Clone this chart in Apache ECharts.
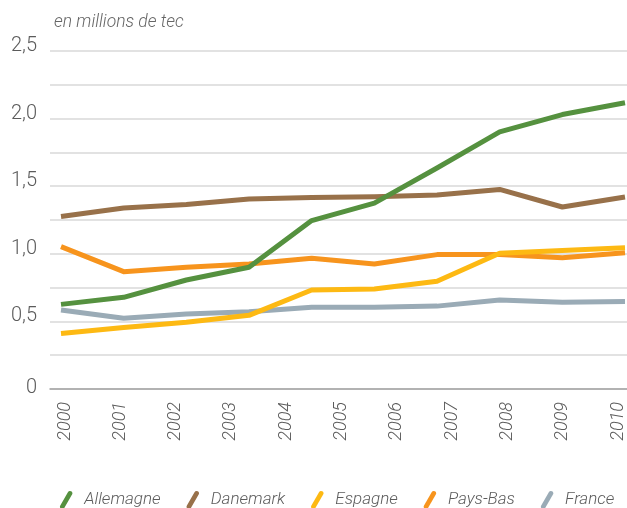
<!DOCTYPE html>
<html><head><meta charset="utf-8">
<script src="https://cdn.jsdelivr.net/npm/echarts@6/dist/echarts.min.js"></script>
<style>html,body{margin:0;padding:0;background:#fff}#c{width:627px;height:508px}</style>
</head><body><div id="c"></div>
<script>
// Year tick labels shown on the axis
const yearLabels = ['2000','2001','2002','2003','2004','2005','2006','2007','2008','2009','2010'];
// The source plots 10 observations spread over the labelled span
const pointSlots = ['1','2','3','4','5','6','7','8','9','10'];
const allemagne = [0.626, 0.678, 0.806, 0.90, 1.246, 1.375, 1.635, 1.902, 2.03, 2.117];
const danemark  = [1.276, 1.338, 1.365, 1.405, 1.417, 1.422, 1.435, 1.476, 1.346, 1.42];
const espagne   = [0.411, 0.455, 0.493, 0.545, 0.732, 0.74, 0.797, 1.004, 1.024, 1.044];
const paysBas   = [1.053, 0.868, 0.90, 0.925, 0.967, 0.925, 0.994, 0.994, 0.97, 1.007];
const france    = [0.584, 0.524, 0.554, 0.571, 0.604, 0.604, 0.613, 0.658, 0.641, 0.648];
const seriesNames = ['Allemagne','Danemark','Espagne','Pays-Bas','France'];
const unitLabel = 'en millions de tec';

const FONT = 'Roboto';
const TXT = '#5b5b5b';
const colors = {Allemagne:'#55913f', Danemark:'#98714a', Espagne:'#fdb913', 'Pays-Bas':'#f7941d', France:'#9aabb6'};
const values = {Allemagne:allemagne, Danemark:danemark, Espagne:espagne, 'Pays-Bas':paysBas, France:france};
const drawOrder = ['France','Pays-Bas','Espagne','Danemark','Allemagne'];

const chart = echarts.init(document.getElementById('c'), null, {renderer:'canvas'});
const TOP = 51, BOTTOM = 119;
const yLab = {fontFamily:FONT, fontWeight:300, fontSize:20, color:TXT};
chart.setOption({
  animation:false,
  backgroundColor:'#fff',
  title:{text:unitLabel, left:49, top:9, textStyle:{fontFamily:FONT, fontWeight:300, fontStyle:'italic', fontSize:17.5, color:'#666'}},
  grid:[
    {left:50, right:0, top:TOP, bottom:BOTTOM},
    {left:61, right:2, top:TOP, bottom:BOTTOM},
    {left:65, right:7, top:TOP, bottom:BOTTOM}
  ],
  xAxis:[
    {gridIndex:0, type:'category', data:pointSlots, boundaryGap:false,
     axisLine:{show:true, lineStyle:{color:'#a3a3a3', width:1.5}}, axisTick:{show:false}, axisLabel:{show:false}},
    {gridIndex:1, type:'category', data:pointSlots, boundaryGap:false, show:false},
    {gridIndex:2, type:'category', data:yearLabels, boundaryGap:false,
     axisLine:{show:false}, axisTick:{show:false},
     axisLabel:{rotate:90, margin:13, fontFamily:FONT, fontWeight:300, fontStyle:'italic', fontSize:18, color:TXT, interval:0}}
  ],
  yAxis:[
    {gridIndex:0, type:'value', min:0, max:2.5, interval:0.25,
     axisLine:{show:false}, axisTick:{show:false},
     splitLine:{lineStyle:{color:'#d9d9d9', width:1.5}},
     axisLabel:{margin:13, rich:{a:Object.assign({padding:[0,0,10,0]}, yLab), z:Object.assign({padding:[0,0,3,0]}, yLab)},
       formatter:function(v){const k=Math.round(v*100); if(k%50!==0) return ''; return k===0?'{z|0}':'{a|'+v.toFixed(1).replace('.',',')+'}';}}},
    {gridIndex:1, type:'value', min:0, max:2.5, show:false},
    {gridIndex:2, type:'value', min:0, max:2.5, show:false}
  ],
  legend:{
    data:seriesNames, left:55, top:486, itemWidth:14, itemHeight:18, itemGap:26,
    icon:'path://M0.83,14.76 L8.83,0.76 A2.5,2.5 0 0 1 13.17,3.24 L5.17,17.24 A2.5,2.5 0 0 1 0.83,14.76 Z',
    itemStyle:{borderWidth:0},
    textStyle:{fontFamily:FONT, fontWeight:300, fontStyle:'italic', fontSize:17, color:TXT, padding:[0,0,0,6]}
  },
  series: drawOrder.map(n=>({
    name:n, type:'line', xAxisIndex:1, yAxisIndex:1, data:values[n],
    symbol:'none', color:colors[n],
    lineStyle:{width:5, color:colors[n], join:'round'},
    itemStyle:{color:colors[n]}
  }))
});
</script></body></html>
